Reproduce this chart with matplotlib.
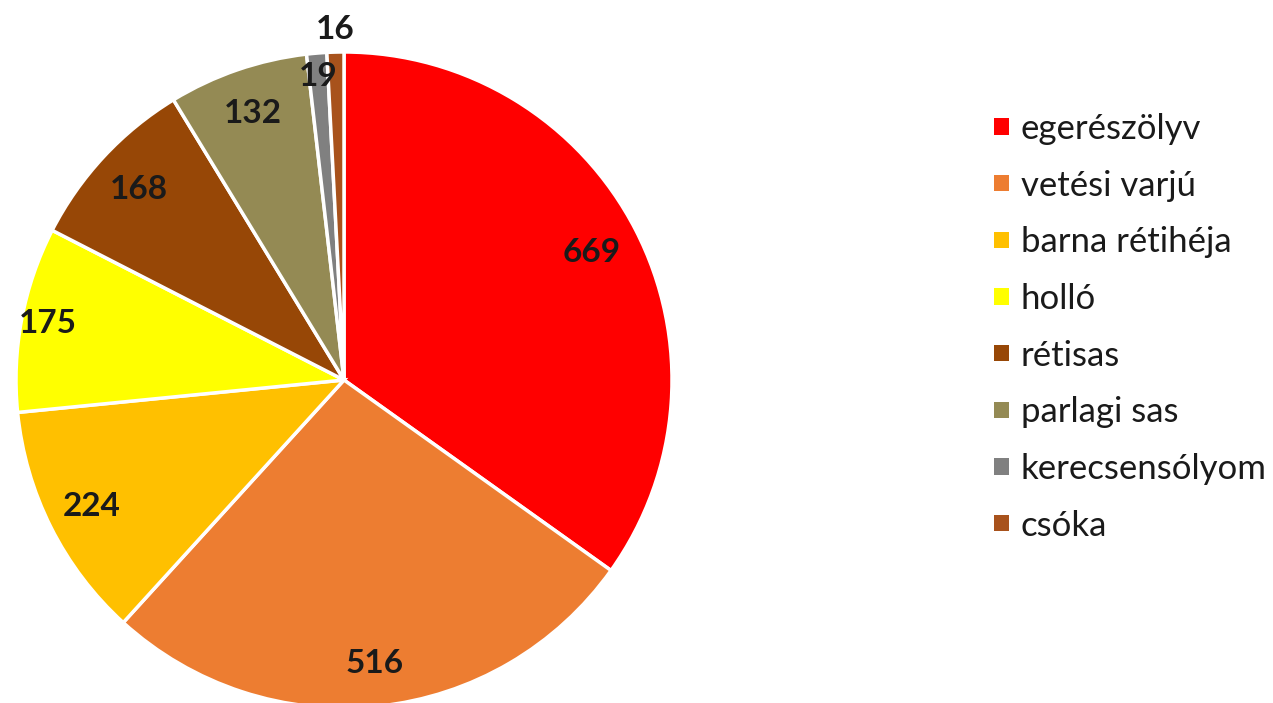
import matplotlib
matplotlib.use('Agg')
import matplotlib.pyplot as plt
import numpy as np

# donnees
species = ['egerészölyv', 'vetési varjú', 'barna rétihéja', 'holló', 'rétisas',
           'parlagi sas', 'kerecsensólyom', 'csóka']
counts = [669, 516, 224, 175, 168, 132, 19, 16]
colors = ['#FF0000', '#ED7D31', '#FFC000', '#FFFF00', '#974706',
          '#948A54', '#808080', '#A8521C']
label_dist = [0.85, 0.87, 0.86, 0.92, 0.855, 0.86, 0.93, 1.07]

plt.rcParams['font.family'] = ['Lato', 'DejaVu Sans']

fig = plt.figure(figsize=(12.73, 7.03), dpi=100)
ax = fig.add_axes([16 / 1273, -5 / 703, 656 / 1273, 656 / 703])

wedges, _ = ax.pie(counts, colors=colors, startangle=90, counterclock=False,
                   radius=1, wedgeprops=dict(edgecolor='white', linewidth=2.5))
for w in wedges:
    w.set_clip_on(False)

# etiquettes de valeur
for w, val, d in zip(wedges, counts, label_dist):
    ang = np.deg2rad((w.theta1 + w.theta2) / 2)
    ax.text(d * np.cos(ang), d * np.sin(ang), str(val), ha='center', va='center',
            fontsize=24, fontweight='bold', color='#1a1a1a', clip_on=False)

ax.set_xlim(-1, 1)
ax.set_ylim(-1, 1)
ax.set_aspect('equal')
ax.axis('off')

leg = fig.legend(wedges, species, loc='upper left', bbox_to_anchor=(994 / 1273, 1 - 113 / 703),
                 frameon=False, fontsize=25, handlelength=0.42, handleheight=0.35,
                 handletextpad=0.35, labelspacing=0.71, borderpad=0, borderaxespad=0)
for t in leg.get_texts():
    t.set_color('#1a1a1a')
for h in leg.legend_handles:
    h.set_edgecolor('none')

fig.savefig('out.png', dpi=100)
